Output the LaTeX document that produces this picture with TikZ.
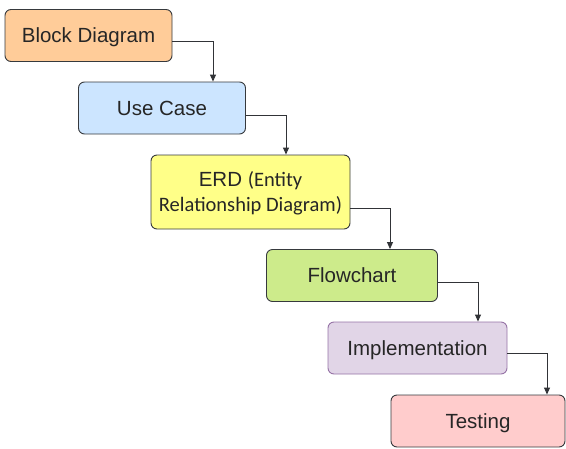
\documentclass[tikz,border=0pt]{standalone}
\usepackage{fontspec}
\setmainfont{Liberation Sans}
\newfontfamily\calib{Carlito}
\usetikzlibrary{arrows.meta}
\definecolor{edgegray}{HTML}{36393D}
\definecolor{cOrange}{HTML}{FFCC99}
\definecolor{cBlue}{HTML}{CCE5FF}
\definecolor{cYellow}{HTML}{FFFF88}
\definecolor{cGreen}{HTML}{CDEB8B}
\definecolor{cPurple}{HTML}{E1D5E7}
\definecolor{ePurple}{HTML}{9673A6}
\definecolor{cRed}{HTML}{FFCCCC}
\tikzset{
  stepbox/.style={draw=edgegray, line width=0.9pt, rounded corners=6pt, minimum height=52pt,
    inner sep=0pt, text depth=0pt, align=center, font=\fontsize{20.5}{25}\selectfont, text=black!85},
  arr/.style={draw=edgegray!90!black, line width=0.9pt, -{Triangle[length=7pt,width=6pt]}}
}
\begin{document}
\begin{tikzpicture}[x=1pt,y=-1pt]
\useasboundingbox (0,0) rectangle (566,448);
\node[stepbox, fill=cOrange, minimum width=167pt] (b) at (88.5,35.5) {Block Diagram};
\node[stepbox, fill=cBlue, minimum width=167pt] (u) at (162,108) {Use Case};
\node[stepbox, fill=cYellow, minimum width=199pt, minimum height=74pt] (e) at (250.5,192)
  {ERD {\calib(Entity}\\{\calib Relationship Diagram)}};
\node[stepbox, fill=cGreen, minimum width=171pt] (f) at (352,275.5) {Flowchart};
\node[stepbox, draw=ePurple, fill=cPurple, minimum width=179pt] (i) at (417.5,348) {Implementation};
\node[stepbox, fill=cRed, minimum width=174pt] (t) at (478,421) {Testing};
\draw[arr] ([yshift=-5.5pt]b.east) -| ([xshift=51pt]u.north);
\draw[arr] ([yshift=-7pt]u.east) -| ([xshift=35.5pt]e.north);
\draw[arr] ([yshift=-16pt]e.east) -| ([xshift=38pt]f.north);
\draw[arr] ([yshift=-6.5pt]f.east) -| ([xshift=60.5pt]i.north);
\draw[arr] ([yshift=-5pt]i.east) -| ([xshift=69pt]t.north);
\end{tikzpicture}
\end{document}
